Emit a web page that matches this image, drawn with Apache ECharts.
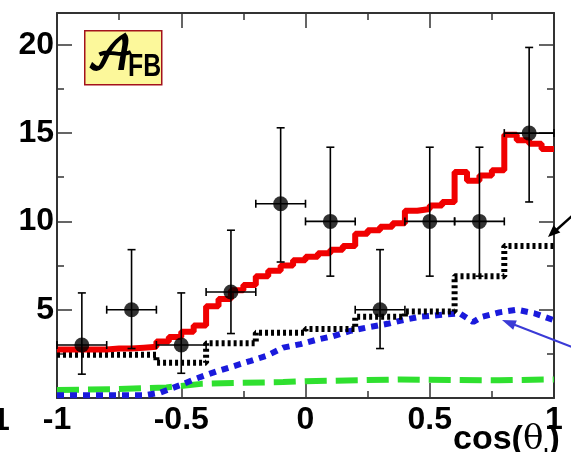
<!DOCTYPE html>
<html><head><meta charset="utf-8">
<script src="https://cdn.jsdelivr.net/npm/echarts@6/dist/echarts.min.js"></script>
<style>html,body{margin:0;padding:0;background:#fff}#c{width:571px;height:452px}</style>
</head><body><div id="c"></div>
<script>
// ---- data ----
const xTickLabels = ['-1', '-0.5', '0', '0.5', '1'];
const yTickLabels = ['5', '10', '15', '20'];

// measured points with asymmetric errors
const dataX = [-0.9, -0.7, -0.5, -0.3, -0.1, 0.1, 0.3, 0.5, 0.7, 0.9];
const dataY = [3, 5, 3, 6, 11, 10, 5, 10, 10, 15];
const dataLow = [1.35, 2.8, 1.4, 3.65, 7.7, 6.9, 2.8, 6.9, 6.9, 11.1];
const dataHigh = [5.95, 8.4, 5.95, 9.5, 15.3, 14.2, 8.4, 14.2, 14.2, 19.85];
const dataXErr = [0.1, 0.1, 0.1, 0.1, 0.1, 0.1, 0.1, 0.1, 0.1, 0.1];

// red fine-binned histogram (bins of 0.05 from -1)
const redBinWidth = 0.05;
const redValues = [2.75, 2.75, 2.75, 2.75, 2.8, 2.8, 2.85, 2.9, 3.2, 3.45,
                   3.75, 4.1, 5.2, 5.6, 6.1, 6.4, 6.9, 7.2, 7.5, 7.8,
                   8.0, 8.2, 8.4, 8.6, 9.3, 9.5, 9.7, 9.9, 10.6, 10.7,
                   10.9, 11.1, 12.8, 12.3, 12.6, 12.9, 14.9, 14.6, 14.4, 14.1];

// black dotted histogram
const blackEdges = [-1, -0.6, -0.4, -0.2, 0, 0.2, 0.4, 0.6, 0.8, 1];
const blackValues = [2.45, 2.0, 3.1, 3.7, 3.9, 4.6, 4.9, 6.9, 8.6];

// blue dashed curve
const blueX = [-1, -0.65, -0.585, -0.5, -0.44, -0.36, -0.29, -0.22, -0.155, -0.09, -0.02, 0.045, 0.11, 0.18,
               0.25, 0.33, 0.39, 0.46, 0.54, 0.62, 0.675, 0.71, 0.78, 0.85, 0.92, 1.0];
const blueY = [0.15, 0.15, 0.3, 0.75, 1.1, 1.5, 1.8, 2.1, 2.4, 2.85, 3.05, 3.3, 3.5, 3.8,
               4.0, 4.2, 4.4, 4.6, 4.7, 4.8, 4.3, 4.6, 4.85, 5.0, 4.8, 4.4];

// green long-dashed curve
const greenX = [-1, -0.76, -0.56, -0.42, -0.29, -0.09, 0.0, 0.38, 0.78, 1.0];
const greenY = [0.45, 0.5, 0.6, 0.8, 0.85, 0.9, 0.95, 1.05, 1.0, 1.05];

// ---- build ----
const redData = redValues.map((v, i) => [-1 + i * redBinWidth, v]);
redData.push([1, redValues[redValues.length - 1]]);
const blackData = blackValues.map((v, i) => [blackEdges[i], v]);
blackData.push([blackEdges[blackEdges.length - 1], blackValues[blackValues.length - 1]]);
const blueData = blueX.map((x, i) => [x, blueY[i]]);
const greenData = greenX.map((x, i) => [x, greenY[i]]);
const pointData = dataX.map((x, i) => [x, dataY[i]]);
const errData = dataX.map((x, i) => [x, dataY[i], dataLow[i], dataHigh[i], dataXErr[i]]);

const FONT = 'Liberation Sans, Arial, sans-serif';
const axisLineStyle = { color: '#333', width: 2 };
const tickStyle = { color: '#333', width: 1.5 };

function xAxisCfg(pos, showLabel) {
  return {
    type: 'value', position: pos, min: -1, max: 1, interval: 0.5,
    axisLine: { show: true, onZero: false, lineStyle: axisLineStyle },
    axisTick: { show: true, inside: true, length: 15, lineStyle: tickStyle },
    minorTick: { show: true, splitNumber: 2, length: 7, lineStyle: tickStyle },
    splitLine: { show: false }, minorSplitLine: { show: false },
    axisLabel: {
      show: showLabel, margin: 6, color: '#000', fontSize: 32, fontWeight: 'bold', fontFamily: FONT,
      formatter: v => xTickLabels[Math.round((v + 1) / 0.5)] || ''
    }
  };
}
function yAxisCfg(pos, showLabel) {
  return {
    type: 'value', position: pos, min: 0, max: 21.8, interval: 5,
    axisLine: { show: true, onZero: false, lineStyle: axisLineStyle },
    axisTick: { show: true, inside: true, length: 15, lineStyle: tickStyle },
    minorTick: { show: true, splitNumber: 2, length: 7, lineStyle: tickStyle },
    splitLine: { show: false }, minorSplitLine: { show: false },
    axisLabel: {
      show: showLabel, margin: 3, color: '#000', fontSize: 32, fontWeight: 'bold', fontFamily: FONT,
      formatter: v => { const k = Math.round(v / 5); return k >= 1 ? (yTickLabels[k - 1] || '') : ''; }
    }
  };
}

const chart = echarts.init(document.getElementById('c'), null, { renderer: 'canvas' });
chart.setOption({
  animation: false,
  backgroundColor: '#fff',
  grid: { left: 57, right: 17, top: 13, bottom: 54 },
  xAxis: [xAxisCfg('bottom', true), xAxisCfg('top', false)],
  yAxis: [yAxisCfg('left', true), yAxisCfg('right', false)],
  series: [
    { type: 'line', data: greenData, showSymbol: false, z: 2,
      lineStyle: { color: '#2fe02f', width: 6, type: [22, 9] } },
    { type: 'line', data: blueData, showSymbol: false, z: 3,
      lineStyle: { color: '#1a1adc', width: 6, type: [7, 6] } },
    { type: 'line', data: blackData, step: 'end', showSymbol: false, z: 3,
      lineStyle: { color: '#000', width: 6, type: [3, 3] } },
    { type: 'line', data: redData, step: 'end', showSymbol: false, z: 4,
      lineStyle: { color: '#f00000', width: 6 } },
    { type: 'custom', data: errData, z: 5,
      renderItem(params, api) {
        const x = api.value(0), y = api.value(1), lo = api.value(2), hi = api.value(3), ex = api.value(4);
        const pl = api.coord([x - ex, y]), pr = api.coord([x + ex, y]);
        const pLo = api.coord([x, lo]), pHi = api.coord([x, hi]);
        const c = 4;
        const st = { stroke: '#000', lineWidth: 1.6 };
        const L = (x1, y1, x2, y2) => ({ type: 'line', shape: { x1, y1, x2, y2 }, style: st });
        return { type: 'group', children: [
          L(pLo[0], pLo[1], pHi[0], pHi[1]),
          L(pLo[0] - c, pLo[1], pLo[0] + c, pLo[1]),
          L(pHi[0] - c, pHi[1], pHi[0] + c, pHi[1]),
          L(pl[0], pl[1], pr[0], pr[1]),
          L(pl[0], pl[1] - c, pl[0], pl[1] + c),
          L(pr[0], pr[1] - c, pr[0], pr[1] + c)
        ]};
      }
    },
    { type: 'scatter', data: pointData, symbol: 'circle', symbolSize: 15, z: 6,
      itemStyle: { color: '#000' } }
  ],
  graphic: [
    { type: 'rect', left: 84, top: 30, shape: { width: 77, height: 54 }, z: 10,
      style: { fill: '#fcf89b', stroke: '#a3121c', lineWidth: 1.5 } },
    { type: 'text', left: 86, top: 33, z: 11,
      style: { text: '𝒜', fill: '#000', stroke: '#000', lineWidth: 1.8, fontSize: 44,
               fontFamily: 'DejaVu Math TeX Gyre, DejaVu Serif, serif' } },
    { type: 'text', left: 128, top: 52, z: 11, scaleX: 0.8,
      style: { text: 'FB', fill: '#000', fontSize: 31, fontWeight: 'bold', fontFamily: FONT } },
    { type: 'text', left: 453, top: 423, z: 11,
      style: { text: '{a|cos(}{t|θ}{s|l}{a|)}', rich: {
        a: { fontSize: 34, fontWeight: 'bold', fontFamily: FONT, fill: '#000', verticalAlign: 'bottom' },
        t: { fontSize: 34, fontFamily: 'DejaVu Serif, serif', fill: '#000', verticalAlign: 'bottom' },
        s: { fontSize: 18, fontWeight: 'bold', fontFamily: FONT, fill: '#000', verticalAlign: 'bottom', padding: [0, 0, -8, 0] }
      } } },
    { type: 'text', left: -8, top: 405, z: 11,
      style: { text: '1', fill: '#000', fontSize: 32, fontWeight: 'bold', fontFamily: FONT } },
    // annotation arrows coming from the right margin
    { type: 'line', z: 11, shape: { x1: 572, y1: 216, x2: 553, y2: 233 }, style: { stroke: '#000', lineWidth: 2.5 } },
    { type: 'polygon', z: 11, shape: { points: [[548, 237], [560.3, 232.6], [553.5, 225.2]] }, style: { fill: '#000' } },
    { type: 'line', z: 11, shape: { x1: 572, y1: 347, x2: 510, y2: 323 }, style: { stroke: '#3a3ad6', lineWidth: 2 } },
    { type: 'polygon', z: 11, shape: { points: [[502, 320], [516.8, 320.4], [513.2, 329.8]] }, style: { fill: '#3a3ad6' } }
  ]
});
</script></body></html>
